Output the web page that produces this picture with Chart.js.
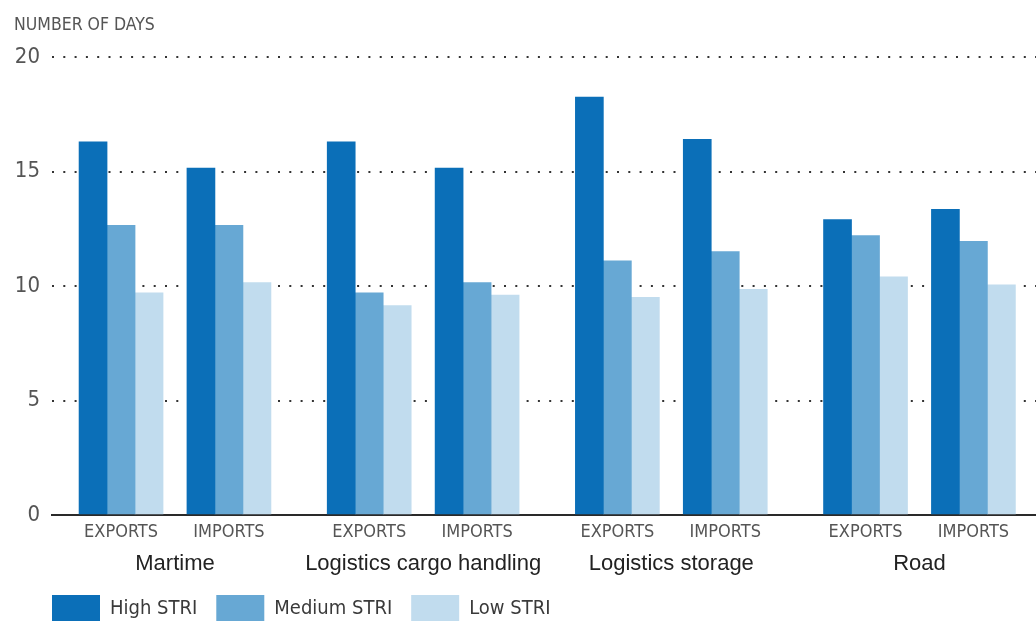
<!DOCTYPE html>
<html>
<head>
<meta charset="utf-8">
<title>Days to trade by STRI level</title>
<script src="https://cdn.jsdelivr.net/npm/chart.js"></script>
<style>
  html, body { margin: 0; padding: 0; background: #fff; }
  #wrap { width: 1036px; height: 621px; position: relative; }
</style>
</head>
<body>
<div id="wrap"><canvas id="stri-chart"></canvas></div>
<script>
const sectors = ['Martime', 'Logistics cargo handling', 'Logistics storage', 'Road'];
const flows = ['EXPORTS', 'IMPORTS'];
const seriesNames = ['High STRI', 'Medium STRI', 'Low STRI'];
// order: sector by sector, exports then imports
const highStri = [16.3, 15.15, 16.3, 15.15, 18.25, 16.4, 12.9, 13.35];
const mediumStri = [12.65, 12.65, 9.7, 10.15, 11.1, 11.5, 12.2, 11.95];
const lowStri = [9.7, 10.15, 9.15, 9.6, 9.5, 9.85, 10.4, 10.05];
const yTicks = [0, 5, 10, 15, 20];

const colors = ['#0b6fb8', '#67a8d4', '#c1dcee'];
const NARROW = "'DejaVu Sans Condensed', 'Liberation Sans Narrow', 'Liberation Sans', sans-serif";
const SECTOR_STEP = 2.3;   // distance between sectors, in export/import spacings
const X_MIN = -0.64, X_MAX = 8.48;

function groupX(i) {
    return Math.floor(i / 2) * SECTOR_STEP + (i % 2);
}

function toPoints(values) {
    return values.map((v, i) => ({x: groupX(i), y: v}));
}

// "NUMBER OF DAYS" sits above the value axis, left of the plot
const caption = {
    id: 'caption',
    afterDraw(chart) {
        const ctx = chart.ctx;
        ctx.save();
        ctx.font = "17.5px " + NARROW;
        ctx.fillStyle = '#555';
        ctx.textBaseline = 'middle';
        ctx.fillText('NUMBER OF DAYS', 14, 25);
        ctx.restore();
    }
};

// line the first legend box up with the plot's left edge
const legendAlign = {
    id: 'legendAlign',
    afterLayout(chart) {
        const lg = chart.legend;
        lg.left = chart.chartArea.left - lg.options.labels.padding;
    }
};

const ctx = document.getElementById('stri-chart').getContext('2d');
new Chart(ctx, {
    type: 'bar',
    data: {
        datasets: [highStri, mediumStri, lowStri].map((vals, k) => ({
            label: seriesNames[k],
            data: toPoints(vals),
            backgroundColor: colors[k],
            borderWidth: 0,
            barThickness: 28,
        }))
    },
    options: {
        responsive: true,
        maintainAspectRatio: false,
        animation: false,
        layout: {padding: {top: 57, left: 14, right: 0, bottom: -12}},
        plugins: {
            legend: {
                position: 'bottom',
                align: 'start',
                labels: {
                    boxWidth: 48,
                    boxHeight: 28,
                    padding: 19,
                    color: '#3a3a3a',
                    font: {family: NARROW, size: 20}
                }
            },
            tooltip: {enabled: false}
        },
        scales: {
            x: {
                type: 'linear',
                min: X_MIN,
                max: X_MAX,
                offset: false,
                grid: {display: false, drawTicks: false, offset: false},
                border: {display: true, color: '#2a2a2a', width: 2},
                afterBuildTicks: s => { s.ticks = highStri.map((_, i) => ({value: groupX(i)})); },
                afterFit: s => { s.height = 29; },
                ticks: {
                    autoSkip: false,
                    maxRotation: 0,
                    padding: 7,
                    color: '#555',
                    font: {family: NARROW, size: 18},
                    callback: (v, i) => flows[i % 2]
                }
            },
            x2: {
                type: 'linear',
                position: 'bottom',
                min: X_MIN,
                max: X_MAX,
                offset: false,
                grid: {display: false, drawTicks: false, offset: false},
                border: {display: false},
                afterBuildTicks: s => { s.ticks = sectors.map((_, i) => ({value: i * SECTOR_STEP + 0.5})); },
                afterFit: s => { s.height = 32; },
                ticks: {
                    autoSkip: false,
                    maxRotation: 0,
                    padding: 7,
                    color: '#222',
                    font: {family: "'Liberation Sans', Arial, sans-serif", size: 22},
                    callback: (v, i) => sectors[i]
                }
            },
            y: {
                min: 0,
                max: 20,
                afterBuildTicks: s => { s.ticks = yTicks.map(v => ({value: v})); },
                afterFit: s => { s.width = 38; },
                ticks: {
                    padding: 12,
                    color: '#555',
                    font: {family: NARROW, size: 22}
                },
                grid: {color: '#333', lineWidth: 2, drawTicks: false},
                border: {display: false, dash: [2, 9.3]}
            }
        }
    },
    plugins: [caption, legendAlign]
});
</script>
</body>
</html>
